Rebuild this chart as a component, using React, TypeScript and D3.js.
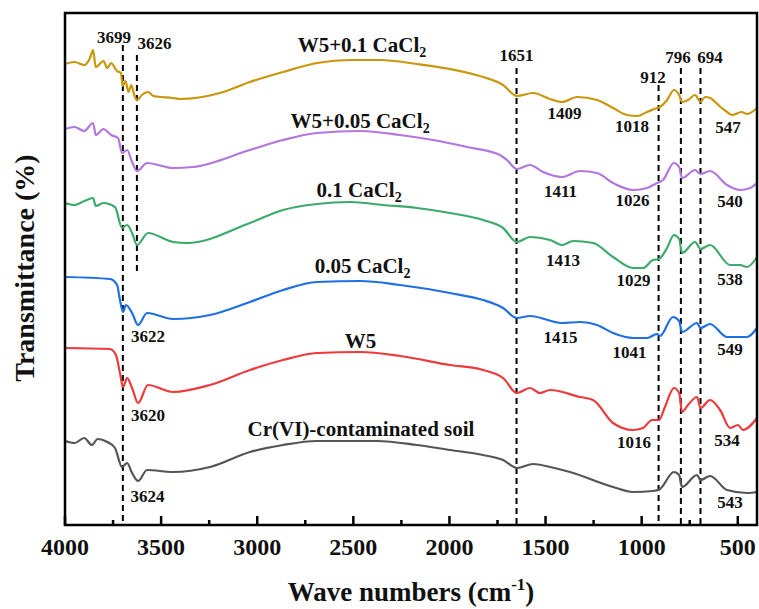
import React from "react";
import * as d3 from "d3";

// FTIR spectra, [wave number, transmittance (stacked, a.u.)]
const w5Ca01: [number, number][] = [
  [4000, 92.2], [3950, 92.6], [3900, 92.0], [3870, 93.4], [3854, 95.0], [3840, 91.6], [3800, 92.8],
  [3780, 91.4], [3760, 92.4], [3730, 90.8], [3709, 90.4], [3700, 87.8], [3685, 88.8], [3670, 86.6],
  [3655, 88.0], [3640, 86.0], [3625, 85.0], [3600, 86.0], [3568, 86.6], [3540, 85.8], [3438, 85.4],
  [3402, 85.2], [3194, 86.4], [3038, 88.6], [2866, 90.6], [2689, 92.4], [2517, 93.0], [2361, 93.0],
  [2169, 92.2], [1997, 91.2], [1825, 89.6], [1721, 88.0], [1649, 85.8], [1565, 86.4], [1477, 85.2],
  [1414, 84.6], [1336, 85.6], [1232, 85.0], [1149, 83.4], [1076, 82.0], [1024, 81.8], [972, 82.6],
  [920, 83.4], [905, 83.6], [868, 85.0], [832, 87.0], [805, 86.0], [790, 84.6], [759, 85.0],
  [722, 86.0], [694, 84.6], [670, 85.6], [644, 85.4], [590, 83.6], [556, 82.6], [530, 82.0],
  [480, 82.6], [452, 82.2], [400, 83.4],
];
const w5Ca005: [number, number][] = [
  [4000, 79.2], [3950, 79.6], [3900, 78.8], [3854, 80.4], [3840, 78.0], [3800, 79.2], [3760, 78.0],
  [3724, 77.4], [3703, 74.4], [3677, 75.0], [3651, 72.6], [3625, 70.8], [3573, 72.4], [3438, 71.4],
  [3334, 71.6], [3038, 75.0], [2866, 77.0], [2689, 78.4], [2465, 78.8], [2257, 78.0], [2086, 77.0],
  [1909, 75.6], [1737, 74.0], [1701, 73.0], [1649, 71.2], [1581, 72.0], [1513, 70.6], [1414, 69.6],
  [1321, 70.8], [1232, 70.4], [1149, 68.4], [1045, 67.0], [972, 67.4], [920, 68.4], [889, 69.0],
  [832, 72.4], [805, 71.6], [790, 69.4], [722, 71.0], [694, 70.2], [644, 70.8], [556, 68.0],
  [488, 67.0], [436, 67.4], [400, 68.4],
];
const ca01: [number, number][] = [
  [4000, 64.4], [3950, 64.0], [3900, 64.8], [3854, 65.4], [3840, 63.8], [3800, 64.4], [3740, 63.6],
  [3703, 59.4], [3677, 60.0], [3651, 58.4], [3625, 56.0], [3568, 58.4], [3438, 56.6], [3365, 56.4],
  [3038, 60.4], [2866, 63.0], [2689, 64.2], [2517, 64.6], [2346, 64.0], [2169, 63.4], [1997, 62.4],
  [1825, 61.0], [1721, 59.4], [1649, 56.6], [1581, 57.6], [1477, 57.0], [1414, 56.0], [1357, 56.8],
  [1253, 56.4], [1149, 53.6], [1045, 51.4], [993, 51.4], [941, 53.0], [910, 53.2], [868, 55.4],
  [832, 58.0], [805, 57.2], [790, 54.4], [722, 56.6], [694, 55.2], [644, 56.0], [540, 52.0],
  [488, 52.0], [452, 51.6], [400, 53.6],
];
const ca005: [number, number][] = [
  [4000, 49.6], [3766, 49.2], [3729, 48.0], [3714, 45.0], [3698, 42.6], [3683, 44.0], [3651, 42.4],
  [3620, 40.0], [3573, 42.4], [3438, 41.2], [3246, 42.0], [3038, 44.6], [2866, 47.0], [2689, 48.6],
  [2465, 48.8], [2257, 48.0], [1997, 46.4], [1825, 45.0], [1721, 43.4], [1649, 41.4], [1581, 41.8],
  [1414, 40.4], [1321, 40.6], [1232, 40.0], [1149, 38.4], [1045, 37.4], [972, 37.4], [920, 38.2],
  [905, 37.8], [837, 41.6], [805, 40.8], [790, 38.6], [712, 40.4], [694, 39.4], [644, 40.2],
  [556, 37.6], [452, 37.6], [400, 39.4],
];
const w5: [number, number][] = [
  [4000, 35.4], [3766, 35.2], [3735, 34.0], [3714, 30.4], [3698, 27.6], [3677, 29.4], [3651, 27.4],
  [3620, 24.4], [3568, 28.0], [3438, 26.6], [3246, 28.0], [3038, 31.0], [2866, 33.0], [2689, 34.4],
  [2465, 34.6], [2257, 33.8], [1997, 32.0], [1825, 31.0], [1721, 29.4], [1649, 26.4], [1581, 27.4],
  [1529, 26.4], [1477, 27.0], [1321, 25.6], [1253, 25.0], [1149, 20.4], [1045, 19.0], [993, 19.4],
  [946, 21.0], [910, 21.0], [879, 23.6], [832, 27.4], [805, 26.4], [790, 22.6], [759, 24.0],
  [712, 25.6], [694, 23.4], [644, 25.0], [592, 23.0], [540, 19.4], [499, 20.0], [473, 19.0],
  [400, 21.4],
];
const soil: [number, number][] = [
  [4000, 16.8], [3950, 16.4], [3900, 17.4], [3860, 16.0], [3830, 17.2], [3780, 16.6], [3740, 15.4],
  [3703, 11.6], [3677, 12.4], [3651, 10.4], [3620, 8.8], [3573, 11.0], [3438, 10.6], [3246, 11.6],
  [3038, 14.6], [2866, 16.0], [2689, 16.8], [2377, 16.8], [2169, 16.0], [1997, 15.0], [1825, 14.0],
  [1721, 13.0], [1649, 11.4], [1565, 12.2], [1477, 11.6], [1373, 10.6], [1149, 7.6], [1045, 6.6],
  [941, 6.8], [905, 7.2], [832, 10.6], [805, 10.0], [790, 7.6], [712, 10.0], [694, 9.0], [644, 9.8],
  [556, 7.0], [452, 6.4], [400, 6.6],
];

const seriesData = [w5Ca01, w5Ca005, ca01, ca005, w5, soil];
const seriesColors = ["#C9960C", "#B276E0", "#3BAA6A", "#1F6FE5", "#EE3A3C", "#555555"];
const seriesNames = ["W5+0.1 CaCl", "W5+0.05 CaCl", "0.1 CaCl", "0.05 CaCl", "W5", "Cr(VI)-contaminated soil"];
const seriesSub = ["2", "2", "2", "2", "", ""];
// name label anchor: [wave number, transmittance]
const seriesLabelPos: [number, number][] = [
  [2455, 94.6], [2465, 79.4], [2470, 65.6], [2452, 50.4], [2463, 35.4], [2460, 17.8],
];

// dashed reference lines: [wave number, top, bottom]
const refLines: [number, number, number][] = [
  [3699, 96, 0], [3626, 94, 50.6], [1651, 91.4, 0], [912, 88, 0], [796, 91.4, 0], [694, 91.4, 0],
];

// peak labels: [text, wave number, transmittance]
const peakLabels: [string, number, number][] = [
  ["3699", 3745, 96.4], ["3626", 3534, 95.2], ["1651", 1651, 92.8], ["912", 941, 88.4],
  ["796", 811, 92.4], ["694", 644, 92.4],
  ["1409", 1401, 81.2], ["1018", 1050, 78.6], ["547", 551, 78.4],
  ["1411", 1422, 65.6], ["1026", 1048, 63.8], ["540", 540, 63.6],
  ["1413", 1409, 51.8], ["1029", 1042, 47.8], ["538", 540, 48],
  ["3622", 3568, 36.6], ["1415", 1422, 36.4], ["1041", 1063, 33.4], ["549", 540, 34],
  ["3620", 3568, 20.8], ["1016", 1040, 15.4], ["534", 556, 15.8],
  ["3624", 3571, 4.6], ["543", 540, 3.4],
];

const majorTicks = [4000, 3500, 3000, 2500, 2000, 1500, 1000, 500];
const minorTicks = [3750, 3250, 2750, 2250, 1750, 1250, 750];

const W = 759;
const H = 609;
const left = 65;
const right = 757;
const top = 13;
const bottom = 525;
const FONT = "Liberation Serif, Times New Roman, DejaVu Serif, serif";

export default function App() {
  const x = d3.scaleLinear().domain([4000, 400]).range([left, right]);
  const y = d3.scaleLinear().domain([0, 102.4]).range([bottom, top]);
  const line = d3
    .line<[number, number]>()
    .x((d) => x(d[0]))
    .y((d) => y(d[1]))
    .curve(d3.curveMonotoneX);

  return (
    <svg
      width={W}
      height={H}
      style={{ position: "absolute", left: 0, top: 0, background: "#fff", fontFamily: FONT, fontWeight: 700 }}
    >
      <rect x={0} y={0} width={W} height={H} fill="#fff" />

      {refLines.map(([w, t, b]) => (
        <line
          key={"r" + w}
          x1={x(w)}
          x2={x(w)}
          y1={y(t)}
          y2={y(b)}
          stroke="#000"
          strokeWidth={2}
          strokeDasharray="6,4"
        />
      ))}

      {seriesData.map((d, i) => (
        <path key={"s" + i} d={line(d) || ""} fill="none" stroke={seriesColors[i]} strokeWidth={2.2} strokeLinejoin="round" />
      ))}

      {seriesNames.map((n, i) => (
        <text
          key={"n" + i}
          x={x(seriesLabelPos[i][0])}
          y={y(seriesLabelPos[i][1])}
          textAnchor="middle"
          fontSize={21}
          fill="#111"
        >
          {n}
          {seriesSub[i] && (
            <tspan fontSize={14} dy={5}>
              {seriesSub[i]}
            </tspan>
          )}
        </text>
      ))}

      {peakLabels.map(([t, w, v], i) => (
        <text key={"p" + i} x={x(w)} y={y(v)} textAnchor="middle" fontSize={17} fill="#111">
          {t}
        </text>
      ))}

      {/* frame */}
      <rect x={left} y={top} width={right - left} height={bottom - top} fill="none" stroke="#000" strokeWidth={2.5} />

      {majorTicks.map((t) => (
        <g key={"t" + t}>
          <line x1={x(t)} x2={x(t)} y1={bottom} y2={bottom - 9} stroke="#000" strokeWidth={2.5} />
          <text x={x(t)} y={555} textAnchor="middle" fontSize={24} fill="#111">
            {t}
          </text>
        </g>
      ))}
      {minorTicks.map((t) => (
        <line key={"m" + t} x1={x(t)} x2={x(t)} y1={bottom} y2={bottom - 5} stroke="#000" strokeWidth={2.5} />
      ))}

      <text x={411} y={601} textAnchor="middle" fontSize={27} fill="#111">
        Wave numbers (cm
        <tspan fontSize={17} dy={-11}>
          -1
        </tspan>
        <tspan dy={11}>)</tspan>
      </text>
      <text transform="translate(34,268) rotate(-90)" textAnchor="middle" fontSize={28} fill="#111">
        Transmittance (%)
      </text>
    </svg>
  );
}
